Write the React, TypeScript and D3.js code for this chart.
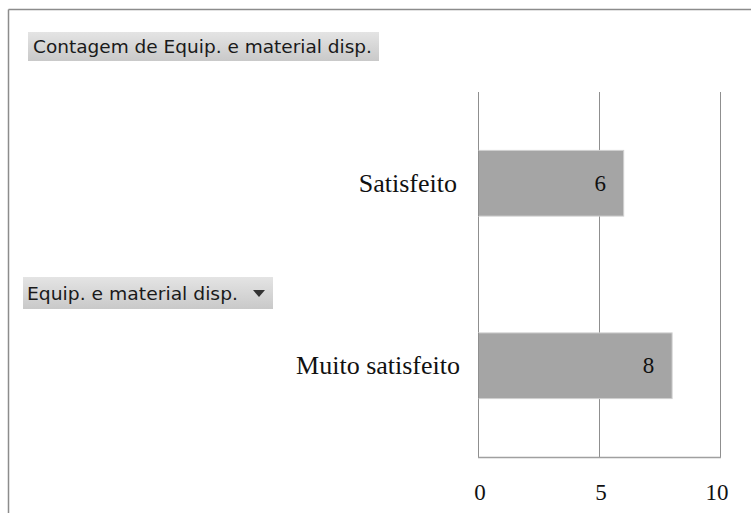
import React from "react";
import * as d3 from "d3";

const categories = ["Satisfeito", "Muito satisfeito"];
const values = [6, 8];
const tickValues = [0, 5, 10];
const titleText = "Contagem de Equip. e material disp.";
const fieldText = "Equip. e material disp.";

export default function App() {
  const W = 751, H = 513;
  const x = d3.scaleLinear().domain([0, 10]).range([478, 720]);
  const y = d3.scaleBand().domain(categories).range([92, 457]).paddingInner(0.64).paddingOuter(0.32);
  const serif = "'Liberation Serif', 'Times New Roman', serif";
  const sans = "'DejaVu Sans', Tahoma, sans-serif";
  return (
    <div style={{ position: "absolute", left: 0, top: 0 }}>
      <svg width={W} height={H} style={{ display: "block" }}>
        <defs>
          <linearGradient id="btn" x1="0" y1="0" x2="0" y2="1">
            <stop offset="0" stopColor="#e4e4e4" />
            <stop offset="1" stopColor="#c9c9c9" />
          </linearGradient>
        </defs>
        <rect x={0} y={0} width={W} height={H} fill="#fff" />
        <line x1={8.5} y1={9.5} x2={W} y2={9.5} stroke="#8c8c8c" strokeWidth={1.5} />
        <line x1={8.5} y1={9.5} x2={8.5} y2={H} stroke="#8c8c8c" strokeWidth={1.5} />

        {/* title button */}
        <rect x={28} y={32} width={351} height={29} fill="url(#btn)" />
        <text x={33} y={53} fontFamily={sans} fontSize={18} textLength={339} lengthAdjust="spacingAndGlyphs" fill="#1a1a1a">{titleText}</text>

        {/* field button */}
        <rect x={23} y={277} width={250} height={32} fill="url(#btn)" />
        <text x={27} y={299.5} fontFamily={sans} fontSize={18} textLength={211} lengthAdjust="spacingAndGlyphs" fill="#1a1a1a">{fieldText}</text>
        <path d="M253,290 L265,290 L259,297 Z" fill="#333" />

        {/* grid */}
        {tickValues.map((t) => (
          <line key={t} x1={x(t) + 0.5} x2={x(t) + 0.5} y1={92} y2={457} stroke="#8f8f8f" strokeWidth={1} />
        ))}
        <line x1={x(0)} x2={x(10) + 1} y1={457.5} y2={457.5} stroke="#a0a0a0" strokeWidth={1.5} />

        {/* bars */}
        {categories.map((c, i) => (
          <g key={c}>
            <rect x={x(0) + 0.5} y={y(c)!} width={x(values[i]) - x(0)} height={y.bandwidth()} fill="#a5a5a5" stroke="#d0d0d0" strokeWidth={1} />
            <line x1={x(0) + 0.5} x2={x(0) + 0.5} y1={y(c)!} y2={y(c)! + y.bandwidth()} stroke="#8f8f8f" />
            <text x={x(values[i]) - 23} y={y(c)! + y.bandwidth() / 2} dominantBaseline="central" textAnchor="middle" fontFamily={serif} fontSize={23} fill="#111">{values[i]}</text>
            <text x={i === 0 ? 457 : 460} y={y(c)! + y.bandwidth() / 2} dominantBaseline="central" textAnchor="end" fontFamily={serif} fontSize={26} fill="#111">{c}</text>
          </g>
        ))}

        {/* ticks */}
        {tickValues.map((t, i) => (
          <text key={t} x={x(t) + (i === 2 ? -3 : 2)} y={492} dominantBaseline="central" textAnchor="middle" fontFamily={serif} fontSize={23} fill="#111">{t}</text>
        ))}
      </svg>
    </div>
  );
}
